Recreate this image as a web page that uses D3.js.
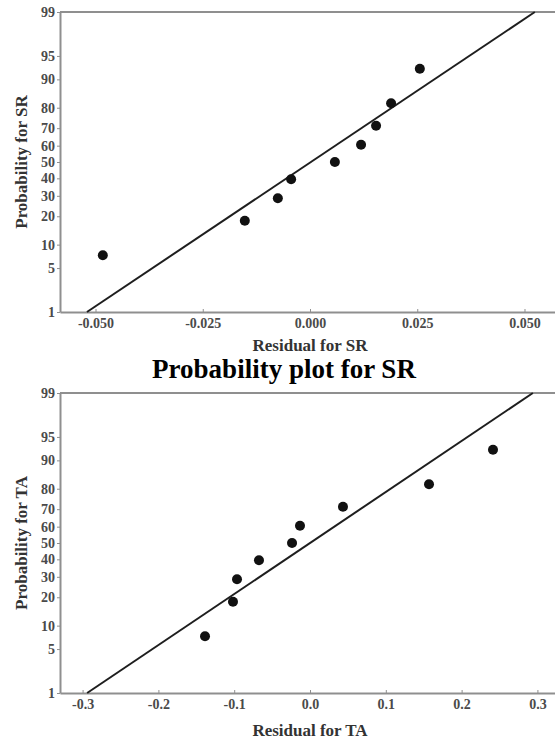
<!DOCTYPE html>
<html>
<head>
<meta charset="utf-8">
<script src="https://cdn.jsdelivr.net/npm/d3@7"></script>
<style>
  html, body { margin: 0; padding: 0; background: #fff; }
  svg { display: block; }
  text { font-family: "Liberation Serif", "Times New Roman", serif; font-weight: bold; }
</style>
</head>
<body>
<svg id="chart" width="555" height="739"></svg>
<script>
// probability levels (median ranks) shared by both plots, in percent
const probLevels = [7.4, 18.1, 28.7, 39.4, 50, 60.6, 71.3, 81.9, 92.6];

// residuals for SR, sorted
const srResiduals = [-0.0483, -0.0152, -0.0075, -0.0044, 0.0058, 0.0119, 0.0154, 0.0189, 0.0256];
// residuals for TA, sorted
const taResiduals = [-0.1385, -0.1016, -0.0963, -0.0673, -0.0237, -0.0132, 0.0435, 0.157, 0.2414];

// reference line end points (residual at 1% and 99%)
const lineProbs = [1, 99];
const srLine = [-0.052, 0.0524];
const taLine = [-0.294, 0.294];

const yTicks = [1, 5, 10, 20, 30, 40, 50, 60, 70, 80, 90, 95, 99];
const yTickLabels = ["1", "5", "10", "20", "30", "40", "50", "60", "70", "80", "90", "95", "99"];

const srXTicks = [-0.05, -0.025, 0, 0.025, 0.05];
const srXTickLabels = ["-0.050", "-0.025", "0.000", "0.025", "0.050"];
const taXTicks = [-0.3, -0.2, -0.1, 0, 0.1, 0.2, 0.3];
const taXTickLabels = ["-0.3", "-0.2", "-0.1", "0.0", "0.1", "0.2", "0.3"];

const AXIS_COLOR = "#8f8f8f";
const TICK_TEXT = "#4a4a4a";

// inverse normal cdf (Acklam), used for the probability axis
function probit(p) {
    const a = [-3.969683028665376e+01, 2.209460984245205e+02, -2.759285104469687e+02,
               1.383577518672690e+02, -3.066479806614716e+01, 2.506628277459239e+00];
    const b = [-5.447609879822406e+01, 1.615858368580409e+02, -1.556989798598866e+02,
               6.680131188771972e+01, -1.328068155288572e+01];
    const c = [-7.784894002430293e-03, -3.223964580411365e-01, -2.400758277161838e+00,
               -2.549732539343734e+00, 4.374664141464968e+00, 2.938163982698783e+00];
    const d = [7.784695709041462e-03, 3.224671290700398e-01, 2.445134137142996e+00,
               3.754408661907416e+00];
    const pl = 0.02425, ph = 1 - pl;
    let q, r;
    if (p < pl) {
        q = Math.sqrt(-2 * Math.log(p));
        return (((((c[0]*q+c[1])*q+c[2])*q+c[3])*q+c[4])*q+c[5]) / ((((d[0]*q+d[1])*q+d[2])*q+d[3])*q+1);
    } else if (p <= ph) {
        q = p - 0.5; r = q * q;
        return (((((a[0]*r+a[1])*r+a[2])*r+a[3])*r+a[4])*r+a[5])*q / (((((b[0]*r+b[1])*r+b[2])*r+b[3])*r+b[4])*r+1);
    }
    q = Math.sqrt(-2 * Math.log(1 - p));
    return -(((((c[0]*q+c[1])*q+c[2])*q+c[3])*q+c[4])*q+c[5]) / ((((d[0]*q+d[1])*q+d[2])*q+d[3])*q+1);
}

const svg = d3.select("#chart");

function drawPanel(opts) {
    const { top, bottom, left, right, xDomain, residuals, line, xTicks, xTickLabels,
            xTitle, xTitleY, yTitle } = opts;

    const g = svg.append("g");

    const x = d3.scaleLinear().domain(xDomain).range([left, right]);
    const z = d3.scaleLinear().domain([probit(0.01), probit(0.99)]).range([bottom, top]);
    const y = p => z(probit(p / 100));

    // top frame line
    g.append("line")
        .attr("x1", left).attr("x2", right)
        .attr("y1", top).attr("y2", top)
        .attr("stroke", AXIS_COLOR).attr("stroke-width", 2);

    const xAxis = g.append("g")
        .attr("transform", `translate(0,${bottom})`)
        .call(d3.axisBottom(x)
            .tickValues(xTicks)
            .tickFormat((d, i) => xTickLabels[i])
            .tickSizeInner(-3)
            .tickSizeOuter(0)
            .tickPadding(6));

    const yAxis = g.append("g")
        .attr("transform", `translate(${left},0)`)
        .call(d3.axisLeft(z)
            .tickValues(yTicks.map(p => probit(p / 100)))
            .tickFormat((d, i) => yTickLabels[i])
            .tickSizeInner(3)
            .tickSizeOuter(0)
            .tickPadding(2));

    [xAxis, yAxis].forEach(a => {
        a.select(".domain").attr("stroke", AXIS_COLOR).attr("stroke-width", 2);
        a.selectAll(".tick line").attr("stroke", AXIS_COLOR).attr("stroke-width", 1);
        a.selectAll(".tick text")
            .attr("fill", TICK_TEXT)
            .style("font-family", "'Liberation Serif', 'Times New Roman', serif")
            .style("font-weight", "bold")
            .style("font-size", "14px");
    });

    // fitted reference line
    g.append("line")
        .attr("x1", x(line[0])).attr("y1", y(lineProbs[0]))
        .attr("x2", x(line[1])).attr("y2", y(lineProbs[1]))
        .attr("stroke", "#1e1e1e").attr("stroke-width", 2);

    g.selectAll("circle.pt")
        .data(residuals)
        .enter().append("circle")
        .attr("class", "pt")
        .attr("cx", d => x(d))
        .attr("cy", (d, i) => y(probLevels[i]))
        .attr("r", 5)
        .attr("fill", "#111");

    g.append("text")
        .attr("x", 310).attr("y", xTitleY)
        .attr("text-anchor", "middle")
        .attr("fill", "#333")
        .style("font-size", "17px")
        .text(xTitle);

    g.append("text")
        .attr("transform", `translate(27,${(top + bottom) / 2}) rotate(-90)`)
        .attr("text-anchor", "middle")
        .attr("fill", "#333")
        .style("font-size", "17px")
        .text(yTitle);
}

drawPanel({
    top: 12, bottom: 312, left: 60, right: 555,
    xDomain: [-0.05828, 0.05711],
    residuals: srResiduals, line: srLine,
    xTicks: srXTicks, xTickLabels: srXTickLabels,
    xTitle: "Residual for SR", xTitleY: 351,
    yTitle: "Probability for SR"
});

drawPanel({
    top: 393, bottom: 693, left: 60, right: 555,
    xDomain: [-0.3298, 0.3232],
    residuals: taResiduals, line: taLine,
    xTicks: taXTicks, xTickLabels: taXTickLabels,
    xTitle: "Residual for TA", xTitleY: 736,
    yTitle: "Probability for TA"
});

svg.append("text")
    .attr("x", 284).attr("y", 378)
    .attr("text-anchor", "middle")
    .attr("fill", "#000")
    .style("font-size", "27px")
    .text("Probability plot for SR");
</script>
</body>
</html>
